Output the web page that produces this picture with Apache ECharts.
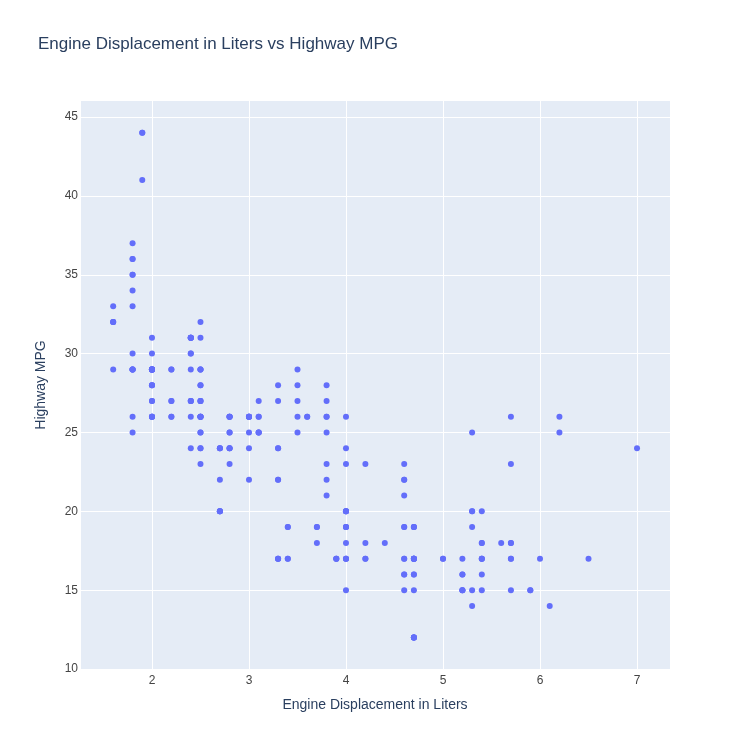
<!DOCTYPE html>
<html>
<head>
<meta charset="utf-8">
<title>Engine Displacement vs Highway MPG</title>
<script src="https://cdn.jsdelivr.net/npm/echarts@6/dist/echarts.min.js"></script>
<style>
  html, body { margin: 0; padding: 0; background: #fff; }
  #chart { width: 750px; height: 750px; }
</style>
</head>
<body>
<div id="chart"></div>
<script>
// engine displacement (litres), one entry per car
const displ = [
  1.8, 1.8, 2.0, 2.0, 2.8, 2.8, 3.1, 1.8, 1.8, 2.0, 2.0, 2.8, 2.8, 3.1, 3.1, 2.8, 3.1, 4.2,
  5.3, 5.3, 5.3, 5.7, 6.0, 5.7, 5.7, 6.2, 6.2, 7.0, 5.3, 5.3, 5.7, 6.5, 2.4, 2.4, 3.1, 3.5, 3.6,
  2.4, 3.0, 3.3, 3.3, 3.3, 3.3, 3.3, 3.8, 3.8, 3.8, 4.0, 3.7, 3.7, 3.9, 3.9, 4.7, 4.7, 4.7, 5.2, 5.2,
  3.9, 4.7, 4.7, 4.7, 5.2, 5.2, 5.9, 4.7, 4.7, 4.7, 4.7, 4.7, 4.7, 5.2, 5.2, 5.7, 5.9,
  4.6, 5.4, 5.4, 4.0, 4.0, 4.0, 4.0, 4.6, 5.0, 4.2, 4.2, 4.6, 4.6, 4.6, 5.4, 5.4,
  3.8, 3.8, 4.0, 4.0, 4.6, 4.6, 4.6, 4.6, 5.4,
  1.6, 1.6, 1.6, 1.6, 1.6, 1.8, 1.8, 1.8, 2.0, 2.4, 2.4, 2.4, 2.4, 2.5, 2.5, 3.3,
  2.0, 2.0, 2.0, 2.0, 2.7, 2.7, 2.7, 3.0, 3.7, 4.0, 4.7, 4.7, 4.7, 5.7, 6.1,
  4.0, 4.2, 4.4, 4.6, 5.4, 5.4, 5.4, 4.0, 4.0, 4.6, 5.0,
  2.4, 2.4, 2.5, 2.5, 3.5, 3.5, 3.0, 3.0, 3.5, 3.3, 3.3, 4.0, 5.6,
  3.1, 3.8, 3.8, 3.8, 5.3, 2.5, 2.5, 2.5, 2.5, 2.5, 2.5, 2.2, 2.2, 2.5, 2.5, 2.5, 2.5, 2.5, 2.5,
  2.7, 2.7, 3.4, 3.4, 4.0, 4.7, 2.2, 2.2, 2.4, 2.4, 3.0, 3.0, 3.5, 2.2, 2.2, 2.4, 2.4, 3.0, 3.0, 3.3,
  1.8, 1.8, 1.8, 1.8, 1.8, 4.7, 5.7, 2.7, 2.7, 2.7, 3.4, 3.4, 4.0, 4.0,
  2.0, 2.0, 2.0, 2.0, 2.8, 1.9, 2.0, 2.0, 2.0, 2.0, 2.5, 2.5, 2.8, 2.8,
  1.9, 1.9, 2.0, 2.0, 2.5, 2.5, 1.8, 1.8, 2.0, 2.0, 2.8, 2.8, 3.6
];
// highway miles per gallon, same order
const hwy = [
  29, 29, 31, 30, 26, 26, 27, 26, 25, 28, 27, 25, 25, 25, 25, 24, 25, 23,
  20, 15, 20, 17, 17, 26, 23, 26, 25, 24, 19, 14, 15, 17, 27, 30, 26, 29, 26,
  24, 24, 22, 22, 24, 24, 17, 22, 21, 23, 23, 19, 18, 17, 17, 19, 19, 12, 17, 15,
  17, 17, 12, 17, 16, 15, 15, 16, 12, 17, 17, 16, 12, 15, 16, 17, 15,
  17, 17, 18, 17, 19, 17, 19, 19, 17, 17, 17, 16, 16, 17, 15, 17,
  26, 25, 26, 24, 21, 22, 23, 22, 20,
  33, 32, 32, 29, 32, 34, 36, 36, 29, 26, 27, 30, 31, 26, 26, 28,
  26, 29, 28, 27, 24, 24, 24, 22, 19, 20, 17, 12, 19, 18, 14,
  15, 18, 18, 15, 17, 16, 18, 17, 19, 19, 17,
  29, 27, 31, 32, 27, 26, 26, 25, 25, 17, 17, 20, 18,
  26, 26, 27, 28, 25, 25, 24, 27, 25, 26, 23, 26, 26, 26, 26, 28, 27, 24, 27,
  20, 20, 19, 17, 20, 17, 29, 27, 31, 31, 26, 26, 28, 27, 29, 31, 31, 26, 26, 27,
  30, 33, 35, 37, 35, 15, 18, 20, 20, 22, 17, 19, 18, 20,
  29, 26, 29, 29, 24, 44, 29, 26, 29, 29, 29, 29, 23, 24,
  44, 41, 29, 26, 28, 29, 29, 29, 28, 29, 26, 26, 26
];

const xRange = [1.258, 7.34];
const yRange = [9.94, 46.08];

const textColor = "#2a3f5f";
const tickColor = "#444";
const fontFamily = "'Liberation Sans', Arial, sans-serif";

const points = displ.map((d, i) => [d, hwy[i]]);

const chart = echarts.init(document.getElementById("chart"));

chart.setOption({
  animation: false,
  backgroundColor: "#fff",
  textStyle: { fontFamily: fontFamily, color: textColor },
  title: {
    text: "Engine Displacement in Liters vs Highway MPG",
    left: 33,
    top: 31,
    textStyle: { fontFamily: fontFamily, fontSize: 17, fontWeight: "normal", color: textColor }
  },
  grid: {
    left: 80,
    right: 80,
    top: 100,
    bottom: 80,
    show: true,
    backgroundColor: "#E5ECF6",
    borderWidth: 0
  },
  xAxis: {
    type: "value",
    min: xRange[0],
    max: xRange[1],
    splitNumber: 5,
    name: "Engine Displacement in Liters",
    nameLocation: "middle",
    nameGap: 28,
    nameTextStyle: { fontSize: 14, color: textColor, fontFamily: fontFamily },
    axisLine: { show: false },
    axisTick: { show: false },
    axisLabel: {
      showMinLabel: false,
      showMaxLabel: false,
      margin: 5,
      fontSize: 12,
      color: tickColor,
      formatter: (v) => (Number.isInteger(v) ? String(v) : "")
    },
    splitLine: { show: true, lineStyle: { color: "#fff", width: 1 } }
  },
  yAxis: {
    type: "value",
    min: yRange[0],
    max: yRange[1],
    splitNumber: 7,
    name: "Highway MPG",
    nameLocation: "middle",
    nameGap: 32,
    nameTextStyle: { fontSize: 14, color: textColor, fontFamily: fontFamily },
    axisLine: { show: false },
    axisTick: { show: false },
    axisLabel: {
      showMinLabel: false,
      showMaxLabel: false,
      margin: 2,
      fontSize: 12,
      color: tickColor,
      formatter: (v) => (Number.isInteger(v) ? String(v) : "")
    },
    splitLine: { show: true, lineStyle: { color: "#fff", width: 1 } }
  },
  series: [
    {
      type: "scatter",
      data: points,
      symbol: "circle",
      symbolSize: 6,
      itemStyle: { color: "#636efa", opacity: 1 },
      emphasis: { disabled: true }
    }
  ]
});

window.addEventListener("resize", function () {
  chart.resize();
});
</script>
</body>
</html>
